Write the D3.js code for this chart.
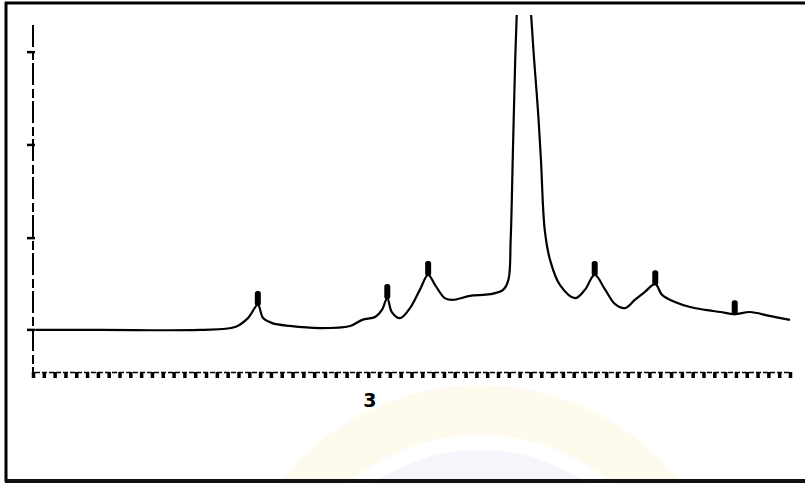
<!DOCTYPE html>
<html>
<head>
<meta charset="utf-8">
<script src="https://cdn.jsdelivr.net/npm/d3@7"></script>
<style>
  body { margin: 0; background: #fff; }
  svg { display: block; }
</style>
</head>
<body>
<div id="chart"></div>
<script>
// Trace (x: 0-100 chart units, y: 0-100 of plot height)
const traceX = [0.3, 9, 22, 26.7, 28.4, 29.7, 30.4, 31.6, 33.9, 37.9, 41.9, 43.5, 45.2, 46.1, 46.8,
  47.4, 48.5, 49.8, 51.1, 52.2, 53.1, 54.4, 55.4, 57.7, 60.4, 62.1, 62.8, 63.1, 63.4, 63.7, 63.9,
  null,
  65.8, 66.2, 66.7, 67.1, 67.6, 68.3, 69.6, 71.6, 72.9, 74.2, 75.6, 76.9, 78.2, 79.5, 80.8, 82.2,
  83.1, 84.8, 86.8, 88.8, 90.8, 92.7, 94.7, 97.3, 100];
const traceY = [11.8, 11.8, 11.8, 12.6, 15.1, 18.8, 15.1, 13.7, 12.9, 12.3, 12.9, 14.6, 15.4, 17.4, 20.7,
  16.8, 15.1, 17.9, 23.0, 27.2, 24.4, 20.7, 20.2, 21.3, 21.8, 23.0, 25.8, 37.0, 62.2, 87.4, 100,
  null,
  100, 87.4, 73.4, 59.4, 39.8, 31.4, 24.4, 20.7, 23.0, 27.2, 23.0, 19.0, 17.9, 20.2, 22.4, 24.6,
  21.6, 19.6, 18.2, 17.4, 16.8, 16.2, 16.8, 15.7, 14.6];

// Small peak markers (x in chart units)
const markerX = [29.7, 46.8, 52.2, 74.2, 82.2, 92.7];
const markerY = [18.8, 20.7, 27.2, 27.2, 24.6, 16.2];

// Y axis tick positions (chart units) and x axis tick count
const yTicks = [11.8, 37.5, 63.6, 89.6];
const xTickCount = 70;
const axisLabel = "3";

const width = 805, height = 484;
const plotLeft = 33, plotRight = 790, plotTop = 15, plotBase = 372;

const svg = d3.select("#chart")
    .append("svg")
    .attr("width", width)
    .attr("height", height);

// Faint watermark behind the plot
svg.append("circle")
    .attr("cx", 480).attr("cy", 640).attr("r", 230)
    .attr("fill", "none")
    .attr("stroke", "#fefaee")
    .attr("stroke-width", 50);
svg.append("circle")
    .attr("cx", 480).attr("cy", 640).attr("r", 190)
    .attr("fill", "#f5f6fc");

// Scan frame
svg.append("line").attr("x1", 6).attr("x2", 6).attr("y1", 2).attr("y2", 482)
    .attr("stroke", "#000").attr("stroke-width", 3);
svg.append("line").attr("x1", 5).attr("x2", width).attr("y1", 3).attr("y2", 3)
    .attr("stroke", "#000").attr("stroke-width", 3);
svg.append("line").attr("x1", 5).attr("x2", width).attr("y1", 481).attr("y2", 481)
    .attr("stroke", "#111").attr("stroke-width", 4);

const x = d3.scaleLinear().domain([0, 100]).range([plotLeft, plotRight]);
const y = d3.scaleLinear().domain([0, 100]).range([plotBase, plotTop]);

// Y axis: dashed vertical with short ticks
svg.append("line")
    .attr("x1", x(0)).attr("x2", x(0))
    .attr("y1", 25).attr("y2", plotBase)
    .attr("stroke", "#000")
    .attr("stroke-width", 2)
    .attr("stroke-dasharray", "22,4,9,3");
svg.selectAll(".ytick")
    .data(yTicks)
    .enter()
    .append("line")
    .attr("class", "ytick")
    .attr("x1", x(0) - 6).attr("x2", x(0) + 2)
    .attr("y1", d => y(d)).attr("y2", d => y(d))
    .attr("stroke", "#000")
    .attr("stroke-width", 2.5);

// X axis: dotted baseline with many small tick marks
const xAxis = d3.axisBottom(x)
    .tickValues(d3.range(xTickCount + 1).map(i => i * 100 / xTickCount))
    .tickSize(6)
    .tickFormat("");
const gx = svg.append("g")
    .attr("transform", `translate(0,${plotBase})`)
    .call(xAxis);
gx.select(".domain")
    .attr("stroke", "#000")
    .attr("stroke-width", 1.5)
    .attr("stroke-dasharray", "5,2");
gx.selectAll(".tick line")
    .attr("stroke", "#000")
    .attr("stroke-width", 3.5);

// Spectrum trace
const points = traceX.map((d, i) => d === null ? null : [d, traceY[i]]);
const line = d3.line()
    .defined(d => d !== null)
    .x(d => x(d[0]))
    .y(d => y(d[1]))
    .curve(d3.curveCatmullRom);
svg.append("path")
    .datum(points)
    .attr("fill", "none")
    .attr("stroke", "#000")
    .attr("stroke-width", 2.2)
    .attr("d", line);

// Peak markers
svg.selectAll(".marker")
    .data(markerX)
    .enter()
    .append("rect")
    .attr("class", "marker")
    .attr("x", d => x(d) - 3)
    .attr("y", (d, i) => y(markerY[i]) - 14)
    .attr("width", 6)
    .attr("height", 15)
    .attr("rx", 2.5)
    .attr("fill", "#000");

// Axis label
svg.append("text")
    .attr("x", x(44.5))
    .attr("y", 407)
    .attr("text-anchor", "middle")
    .attr("font-family", "DejaVu Sans")
    .attr("font-weight", "bold")
    .attr("font-size", 19)
    .text(axisLabel);
</script>
</body>
</html>
